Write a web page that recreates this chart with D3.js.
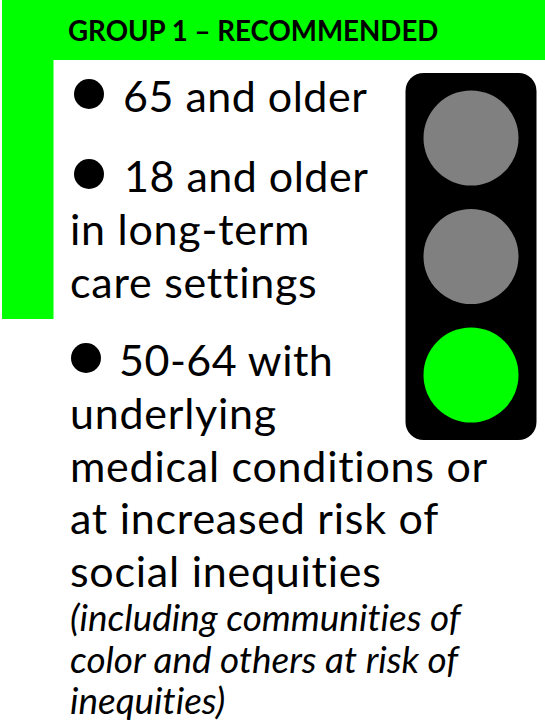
<!DOCTYPE html>
<html>
<head>
<meta charset="utf-8">
<script src="https://cdn.jsdelivr.net/npm/d3@7"></script>
<style>
    html, body { margin: 0; padding: 0; background: #fff; }
    svg { display: block; }
    text { font-family: Lato, "Open Sans", sans-serif; fill: #000; font-variant-ligatures: none; }
</style>
</head>
<body>
<svg id="chart"></svg>
<script>
const   width  = 545,
        height = 721;

// content
const title = "GROUP 1 – RECOMMENDED";
const bulletLines = ["65 and older", "18 and older", "50-64 with"];
const bodyLines = ["in long-term", "care settings", "underlying",
    "medical conditions or", "at increased risk of", "social inequities"];
const noteLines = ["(including communities of", "color and others at risk of", "inequities)"];
const lamps = ["off", "off", "on"];

const GREEN = "#00ff00";
const lampColor = d3.scaleOrdinal().domain(["off", "on"]).range(["#808080", GREEN]);

// baselines
const bulletY = d3.scaleOrdinal().domain(bulletLines).range([112, 192, 376]);
const bulletX = d3.scaleOrdinal().domain(bulletLines).range([89, 89, 86]);
const bulletTextX = d3.scaleOrdinal().domain(bulletLines).range([123, 124, 119]);
const bodyY = d3.scaleOrdinal().domain(bodyLines).range([245, 298, 429, 482, 534, 587]);
const noteY = d3.scalePoint().domain(noteLines).range([631, 714]);
const lampY = d3.scalePoint().domain(d3.range(lamps.length)).range([138, 375]);

const svg = d3.select("#chart").attr("width", width).attr("height", height);

// green corner
svg.append("path")
    .attr("d", "M2,0H545V60H53.5V319H2Z")
    .attr("fill", GREEN);

svg.append("text")
    .attr("x", 68).attr("y", 41)
    .attr("font-size", 27.7).attr("font-weight", 700)
    .text(title);

// bullets
svg.selectAll(".bullet").data(bulletLines).enter().append("circle")
    .attr("class", "bullet")
    .attr("cx", d => bulletX(d))
    .attr("cy", d => bulletY(d) - 18)
    .attr("r", 15);

svg.selectAll(".bullet-text").data(bulletLines).enter().append("text")
    .attr("class", "bullet-text")
    .attr("x", d => bulletTextX(d))
    .attr("y", d => bulletY(d))
    .attr("font-size", 43)
    .attr("letter-spacing", 0.5)
    .text(d => d);

svg.selectAll(".body-text").data(bodyLines).enter().append("text")
    .attr("class", "body-text")
    .attr("x", 70)
    .attr("y", d => bodyY(d))
    .attr("font-size", 43)
    .attr("letter-spacing", 0.75)
    .text(d => d);

svg.selectAll(".note-text").data(noteLines).enter().append("text")
    .attr("class", "note-text")
    .attr("x", 70)
    .attr("y", d => noteY(d))
    .attr("font-size", 36.9)
    .attr("font-style", "italic")
    .text(d => d);

// traffic light
svg.append("rect")
    .attr("x", 405.5).attr("y", 73)
    .attr("width", 131).attr("height", 367)
    .attr("rx", 18)
    .attr("fill", "#000");

svg.selectAll(".lamp").data(lamps).enter().append("circle")
    .attr("class", "lamp")
    .attr("cx", 471)
    .attr("cy", (d, i) => lampY(i))
    .attr("r", 47.5)
    .attr("fill", d => lampColor(d));
</script>
</body>
</html>
